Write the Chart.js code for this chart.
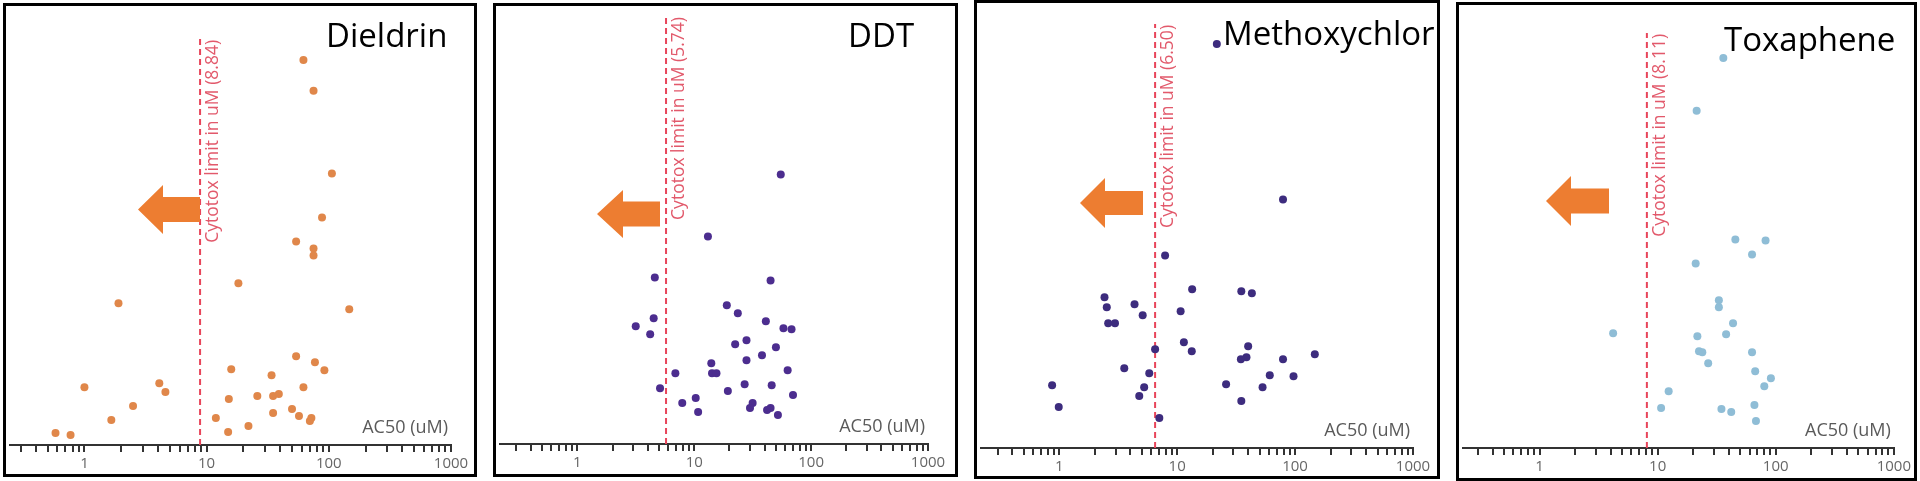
<!DOCTYPE html>
<html>
<head>
<meta charset="utf-8">
<script src="https://cdn.jsdelivr.net/npm/chart.js@4.4.1/dist/chart.umd.min.js"></script>
<style>
  html, body { margin: 0; padding: 0; background: #fff; }
  body { width: 1920px; height: 481px; position: relative; overflow: hidden; }
  .panel { position: absolute; border: 3px solid #000; box-sizing: border-box; }
  .panel canvas { position: absolute; left: 0; top: 0; }
</style>
</head>
<body>
<div class="panel" style="left:3px;top:3px;width:474px;height:474px"><canvas id="c0" width="468" height="468"></canvas></div>
<div class="panel" style="left:493px;top:3px;width:465px;height:474px"><canvas id="c1" width="459" height="468"></canvas></div>
<div class="panel" style="left:974px;top:0px;width:466px;height:479px"><canvas id="c2" width="460" height="473"></canvas></div>
<div class="panel" style="left:1456px;top:2px;width:461px;height:479px"><canvas id="c3" width="455" height="473"></canvas></div>
<script>
// x axis ticks (log scale), only decades get a label
const xTicks = [0.3, 0.4, 0.5, 0.6, 0.7, 0.8, 0.9,
  1, 2, 3, 4, 5, 6, 7, 8, 9,
  10, 20, 30, 40, 50, 60, 70, 80, 90,
  100, 200, 300, 400, 500, 600, 700, 800, 900, 1000];
const majorTicks = [1, 10, 100, 1000];

const compounds = ['Dieldrin', 'DDT', 'Methoxychlor', 'Toxaphene'];
const cytotoxLimits = [8.84, 5.74, 6.50, 8.11];

// AC50 values (uM) and the vertical jitter of each point
const dieldrinX = [62, 75, 106, 88, 54, 75, 75, 18.2, 1.9, 147, 54, 77, 15.9, 92, 34, 4.1, 4.6, 1.0, 62, 15.2, 26, 35, 39, 2.5, 50, 35, 57, 72, 70, 11.9, 1.66, 22, 15.0, 0.58, 0.77];
const dieldrinY = [386, 355, 272, 228, 204, 197, 190, 162, 142, 136, 89, 83, 76, 75, 70, 62, 53, 58, 58, 46, 49, 49, 51, 39, 36, 32, 29, 27, 24, 27, 25, 19, 13, 12, 10];

const ddtX = [55, 13.1, 4.6, 45, 19.0, 23.6, 4.5, 41, 3.16, 58, 68, 4.2, 28, 22.4, 50, 38, 28, 14.0, 14.2, 15.5, 6.9, 63, 27, 46, 5.1, 19.4, 70, 10.3, 7.9, 31.6, 30, 10.8, 42, 45, 52];
const ddtY = [270, 208, 167, 164, 139, 131, 126, 123, 118, 116, 115, 110, 104, 100, 97, 89, 84, 81, 71, 71, 71, 74, 60, 59, 56, 53, 49, 46, 41, 41, 36, 32, 34, 36, 29];

const methoxychlorX = [21.7, 79, 7.9, 13.4, 35, 43, 2.42, 2.53, 4.35, 5.1, 10.7, 2.6, 2.97, 11.4, 13.3, 6.5, 40, 38.7, 34.7, 79, 147, 3.56, 5.8, 61, 97, 0.87, 26, 53, 5.25, 4.77, 0.99, 35, 7.06];
const methoxychlorY = [405, 249, 193, 159, 157, 155, 151, 141, 144, 133, 137, 125, 125, 106, 97, 99, 102, 91, 89, 89, 94, 80, 75, 73, 72, 63, 64, 61, 61, 52, 41, 47, 30];

const toxapheneX = [36, 21.4, 45.5, 82, 63, 21.0, 33, 33, 43.5, 4.2, 38, 21.7, 22.4, 23.9, 63, 26.8, 67, 91, 80, 12.4, 10.7, 34.7, 42, 66, 68];
const toxapheneY = [391, 338, 209, 208, 194, 185, 148, 141, 125, 115, 114, 112, 97, 96, 96, 85, 77, 70, 62, 57, 40, 39, 36, 43, 27];

const seriesX = [dieldrinX, ddtX, methoxychlorX, toxapheneX];
const seriesY = [dieldrinY, ddtY, methoxychlorY, toxapheneY];
const dotColors = ['#e0874a', '#4c2d8f', '#3d2c7e', '#8fbdd6'];
const lineTops = [407, 429, 425, 416];

// per panel geometry
const panels = [
  { xMin: 0.246, yMax: 436, padRight: 23, scaleH: 29, title: [320, 41], arrow: { tip: 132, base: 157, end: 194, cy: 203.5, head: 24.5, shaft: 12.5 } },
  { xMin: 0.218, yMax: 435, padRight: 27, scaleH: 30, title: [352, 41], arrow: { tip: 101, base: 127, end: 164, cy: 208, head: 24, shaft: 12.5 } },
  { xMin: 0.217, yMax: 442, padRight: 24, scaleH: 28, title: [246, 42], arrow: { tip: 103, base: 128, end: 166, cy: 200, head: 25, shaft: 12 } },
  { xMin: 0.225, yMax: 440, padRight: 20, scaleH: 30, title: [265, 46], arrow: { tip: 87, base: 112, end: 150, cy: 196, head: 25, shaft: 12.5 } }
];

const decor = {
  id: 'decor',
  afterDatasetsDraw(chart, args, o) {
    const ctx = chart.ctx;
    const area = chart.chartArea;
    const a = o.arrow;
    ctx.save();
    ctx.fillStyle = '#ed7d31';
    ctx.beginPath();
    ctx.moveTo(a.tip, a.cy);
    ctx.lineTo(a.base, a.cy - a.head);
    ctx.lineTo(a.base, a.cy - a.shaft);
    ctx.lineTo(a.end, a.cy - a.shaft);
    ctx.lineTo(a.end, a.cy + a.shaft);
    ctx.lineTo(a.base, a.cy + a.shaft);
    ctx.lineTo(a.base, a.cy + a.head);
    ctx.closePath();
    ctx.fill();

    ctx.fillStyle = '#000';
    ctx.font = '33px "Open Sans"';
    ctx.textAlign = 'left';
    ctx.textBaseline = 'alphabetic';
    ctx.fillText(o.title, o.titlePos[0], o.titlePos[1]);

    ctx.fillStyle = '#5a5a5a';
    ctx.font = '18px "Open Sans"';
    ctx.textAlign = 'right';
    ctx.fillText('AC50 (uM)', area.right - 3, area.bottom - 12);

    const lx = chart.scales.x.getPixelForValue(o.limit);
    const ly = chart.scales.y.getPixelForValue(o.lineTop);
    ctx.translate(lx + 18, ly + 1);
    ctx.rotate(-Math.PI / 2);
    ctx.font = '17.5px "Open Sans"';
    ctx.fillStyle = '#e2596b';
    ctx.textAlign = 'right';
    ctx.fillText('Cytotox limit in uM (' + o.limit.toFixed(2) + ')', 0, 0);
    ctx.restore();
  }
};

panels.forEach((p, i) => {
  const ctx = document.getElementById('c' + i).getContext('2d');
  new Chart(ctx, {
    type: 'scatter',
    data: {
      datasets: [{
        data: seriesX[i].map((x, k) => ({ x: x, y: seriesY[i][k] })),
        backgroundColor: dotColors[i],
        borderColor: dotColors[i],
        borderWidth: 0,
        pointRadius: 4,
        order: 0
      }, {
        data: [{ x: cytotoxLimits[i], y: 0 }, { x: cytotoxLimits[i], y: lineTops[i] }],
        showLine: true,
        borderColor: '#e8455a',
        borderWidth: 2,
        borderDash: [6, 4],
        pointRadius: 0,
        order: 1
      }]
    },
    options: {
      responsive: false,
      animation: false,
      devicePixelRatio: 1,
      layout: { padding: { left: 0, right: p.padRight, top: 3, bottom: 0 } },
      plugins: {
        legend: { display: false },
        tooltip: { enabled: false },
        decor: {
          title: compounds[i],
          titlePos: p.title,
          arrow: p.arrow,
          limit: cytotoxLimits[i],
          lineTop: lineTops[i]
        }
      },
      scales: {
        x: {
          type: 'logarithmic',
          min: p.xMin,
          max: 1000,
          bounds: 'data',
          afterBuildTicks: s => {
            s.ticks = xTicks.filter(v => v >= s.min && v <= s.max).map(v => ({ value: v }));
          },
          afterFit: s => { s.height = p.scaleH; },
          grid: { drawOnChartArea: false, drawTicks: true, tickLength: 7, color: '#333', lineWidth: 2 },
          border: { display: true, color: '#333', width: 2 },
          ticks: {
            autoSkip: false,
            maxRotation: 0,
            padding: 3,
            color: '#666',
            font: { family: 'Open Sans', size: 15 },
            callback: v => majorTicks.includes(v) ? String(v) : ''
          }
        },
        y: { display: false, min: 0, max: p.yMax }
      }
    },
    plugins: [decor]
  });
});
</script>
</body>
</html>
